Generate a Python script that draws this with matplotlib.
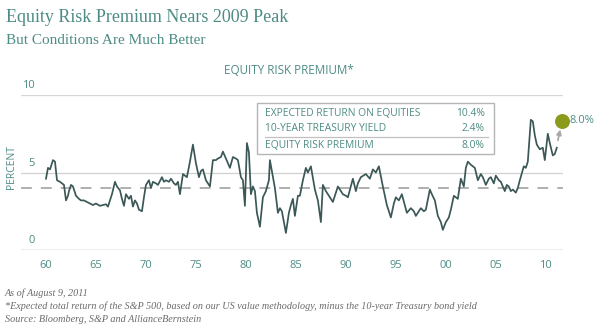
import matplotlib.pyplot as plt
import matplotlib.transforms as mtransforms

years = [1960.0, 1960.2, 1960.4, 1960.5, 1960.7, 1960.9, 1961.0, 1961.1, 1961.4, 1961.6,
         1961.8, 1962.0, 1962.2, 1962.3, 1962.5, 1962.7, 1962.8, 1963.0, 1963.3, 1963.5,
         1963.8, 1964.1, 1964.4, 1964.7, 1965.0, 1965.4, 1965.7, 1966.0, 1966.2, 1966.4,
         1966.6, 1966.9, 1967.1, 1967.4, 1967.6, 1967.8, 1968.0, 1968.3, 1968.5, 1968.7,
         1968.9, 1969.1, 1969.3, 1969.6, 1969.8, 1970.0, 1970.3, 1970.5, 1970.7, 1971.0,
         1971.2, 1971.6, 1971.8, 1972.0, 1972.3, 1972.5, 1972.8, 1973.0, 1973.2, 1973.4,
         1973.7, 1974.1, 1974.4, 1974.7, 1975.0, 1975.3, 1975.5, 1975.7, 1976.0, 1976.4,
         1976.7, 1977.0, 1977.2, 1977.5, 1977.7, 1978.0, 1978.2, 1978.4, 1978.7, 1979.0,
         1979.2, 1979.5, 1979.7, 1979.9, 1980.1, 1980.3, 1980.5, 1980.7, 1980.9, 1981.1,
         1981.4, 1981.7, 1982.0, 1982.3, 1982.4, 1982.7, 1982.9, 1983.2, 1983.4, 1983.6,
         1984.0, 1984.3, 1984.5, 1984.7, 1984.9, 1985.2, 1985.4, 1985.7, 1986.0, 1986.2,
         1986.5, 1986.9, 1987.2, 1987.5, 1987.7, 1988.0, 1988.2, 1988.5, 1988.7, 1989.0,
         1989.2, 1989.5, 1989.7, 1990.0, 1990.2, 1990.7, 1991.0, 1991.2, 1991.5, 1992.0,
         1992.4, 1992.7, 1993.0, 1993.3, 1993.7, 1994.1, 1994.5, 1994.8, 1995.0, 1995.3,
         1995.6, 1996.1, 1996.5, 1996.8, 1997.0, 1997.5, 1997.8, 1998.0, 1998.4, 1998.6,
         1998.9, 1999.2, 1999.5, 1999.7, 2000.0, 2000.3, 2000.5, 2000.8, 2001.2, 2001.5,
         2001.8, 2002.0, 2002.2, 2002.5, 2002.9, 2003.2, 2003.5, 2003.7, 2004.0, 2004.3,
         2004.5, 2004.8, 2005.0, 2005.3, 2005.5, 2005.9, 2006.1, 2006.3, 2006.5, 2006.7,
         2007.0, 2007.2, 2007.4, 2007.8, 2008.0, 2008.2, 2008.5, 2008.7, 2008.9, 2009.1,
         2009.4, 2009.7, 2009.9, 2010.2, 2010.4, 2010.7, 2010.9, 2011.1]
erp = [4.6, 5.3, 5.2, 5.4, 5.8, 5.7, 5.1, 4.5, 4.4, 4.3,
       4.2, 3.2, 3.5, 3.8, 4.2, 4.1, 3.9, 3.5, 3.3, 3.2,
       3.2, 3.1, 3.0, 2.9, 3.0, 2.85, 2.9, 2.95, 2.8, 3.2,
       3.6, 4.4, 4.1, 3.85, 3.3, 2.85, 3.6, 3.3, 3.5, 2.8,
       3.2, 3.0, 2.6, 2.5, 3.4, 4.2, 4.5, 4.0, 4.4, 4.3,
       4.2, 4.7, 4.4, 4.5, 4.4, 4.6, 4.3, 4.2, 4.4, 3.6,
       4.9, 4.7, 5.7, 6.8, 5.6, 4.7, 5.1, 5.2, 4.5, 4.1,
       5.8, 5.8, 5.9, 6.0, 6.35, 5.9, 5.6, 5.3, 6.0, 5.9,
       5.8, 4.7, 4.5, 2.85, 6.9, 6.3, 3.6, 4.1, 3.8, 2.4,
       1.5, 3.4, 3.8, 4.5, 5.8, 4.7, 4.0, 2.4, 2.7, 2.5,
       1.1, 2.4, 2.9, 3.3, 2.2, 3.5, 3.5, 4.5, 5.3, 5.0,
       5.4, 3.9, 3.2, 1.8, 4.2, 3.8, 3.6, 3.3, 3.1, 3.7,
       4.1, 3.8, 3.6, 3.5, 3.4, 4.6, 3.8, 4.3, 4.7, 4.9,
       4.6, 5.2, 5.0, 5.4, 4.1, 2.9, 2.1, 3.0, 3.4, 3.2,
       3.6, 2.4, 2.7, 2.5, 2.2, 2.7, 2.5, 2.6, 3.9, 3.6,
       3.2, 2.2, 1.8, 1.3, 1.8, 2.1, 2.6, 3.5, 3.3, 4.6,
       4.1, 5.3, 5.7, 5.5, 5.3, 4.5, 4.9, 4.7, 4.2, 4.6,
       4.7, 4.3, 4.8, 4.5, 4.4, 3.8, 4.2, 4.1, 3.8, 3.9,
       3.7, 4.0, 4.5, 5.4, 5.3, 5.7, 8.4, 8.3, 7.4, 6.8,
       6.5, 6.6, 5.8, 7.5, 6.9, 6.1, 6.2, 6.6]
avg_line = 4.0
latest = 8.0
table_rows = [("EXPECTED RETURN ON EQUITIES", "10.4%"),
              ("10-YEAR TREASURY YIELD", "2.4%"),
              ("EQUITY RISK PREMIUM", "8.0%")]
xticks = [1960, 1965, 1970, 1975, 1980, 1985, 1990, 1995, 2000, 2005, 2010]
xlabels = ["60", "65", "70", "75", "80", "85", "90", "95", "00", "05", "10"]

teal = "#4d8c84"
line_col = "#3b5856"

fig = plt.figure(figsize=(6, 3.3), dpi=100)
ax = fig.add_axes([0.035, 0.2424, 0.903, 0.4697])
ax.set_xlim(1957.5, 2011.7)
ax.set_ylim(0, 10)
for s in ax.spines.values():
    s.set_visible(False)
ax.set_yticks([])
ax.set_xticks(xticks)
ax.set_xticklabels(xlabels, color=teal, fontsize=8, family="Open Sans")
ax.tick_params(axis="x", length=0, pad=7)

ax.axhline(10, color="#d6d6d6", lw=0.9)
ax.axhline(5, color="#d0d0d0", lw=0.9)
ax.axhline(0, color="#a8a8a8", lw=1.0)
ax.axhline(avg_line, color="#a9a9a9", lw=1.3, dashes=(6, 5))

ax.plot(years, erp, color=line_col, lw=1.25, clip_on=False, zorder=3)

# arrow + latest dot
ax.annotate("", xy=(2011.5, 7.95), xytext=(2011.15, 6.9),
            arrowprops=dict(arrowstyle="-|>", color="#a9a9a9", lw=1.3,
                            mutation_scale=7), annotation_clip=False)
ax.scatter([2011.6], [8.35], s=95, color="#8c9a1c", zorder=4, clip_on=False)
ax.text(2012.4, 8.35, f"{latest:.1f}%", color=teal, fontsize=8,
        family="Open Sans", va="center", ha="left", clip_on=False)

# y labels inside, above gridlines
trans = mtransforms.blended_transform_factory(fig.transFigure, ax.transData)
for v in [10, 5, 0]:
    ax.text(0.037 if v == 10 else 0.047, v + 0.25, str(v), transform=trans,
            color=teal, fontsize=8, family="Open Sans", va="bottom", ha="left")
fig.text(0.02, 1 - 167 / 330, "PERCENT", rotation=90, color=teal, fontsize=7.5,
         family="Open Sans", va="center", ha="center")

# table box
bx0, bx1 = 257 / 600, 494 / 600
by0, by1 = 1 - 154 / 330, 1 - 103 / 330
fig.patches.append(plt.Rectangle((bx0, by0), bx1 - bx0, by1 - by0,
                                 transform=fig.transFigure, facecolor="white",
                                 edgecolor="#b5b5b5", lw=1.0, zorder=5))
row_y = [114, 128, 146]
for (lab, val), ry in zip(table_rows, row_y):
    fig.text(265 / 600, 1 - ry / 330, lab, color=teal, fontsize=7.4, family="Open Sans",
             va="center", ha="left", zorder=6)
    fig.text(485 / 600, 1 - ry / 330, val, color=teal, fontsize=7.4, family="Open Sans",
             va="center", ha="right", zorder=6)
fig.add_artist(plt.Line2D([265 / 600, 488 / 600], [1 - 137 / 330, 1 - 137 / 330],
                          color="#c0c0c0", lw=0.9, zorder=6))

# titles
fig.text(0.01, 1 - 17 / 330, "Equity Risk Premium Nears 2009 Peak", color=teal,
         fontsize=13, family="Liberation Serif", va="center", ha="left")
fig.text(0.01, 1 - 40 / 330, "But Conditions Are Much Better", color=teal,
         fontsize=11, family="Liberation Serif", va="center", ha="left")
fig.text(289 / 600, 1 - 71 / 330, "EQUITY RISK PREMIUM*", color=teal, fontsize=8.4,
         family="Open Sans", va="center", ha="center")

# footnotes
notes = ["As of August 9, 2011",
         "*Expected total return of the S&P 500, based on our US value methodology, minus the 10-year Treasury bond yield",
         "Source: Bloomberg, S&P and AllianceBernstein"]
for i, n in enumerate(notes):
    fig.text(0.008, 1 - (293 + 13 * i) / 330, n, color="#6a6a6a", fontsize=7.3,
             family="Liberation Serif", style="italic", va="center", ha="left")

fig.savefig("out.png", dpi=100)
